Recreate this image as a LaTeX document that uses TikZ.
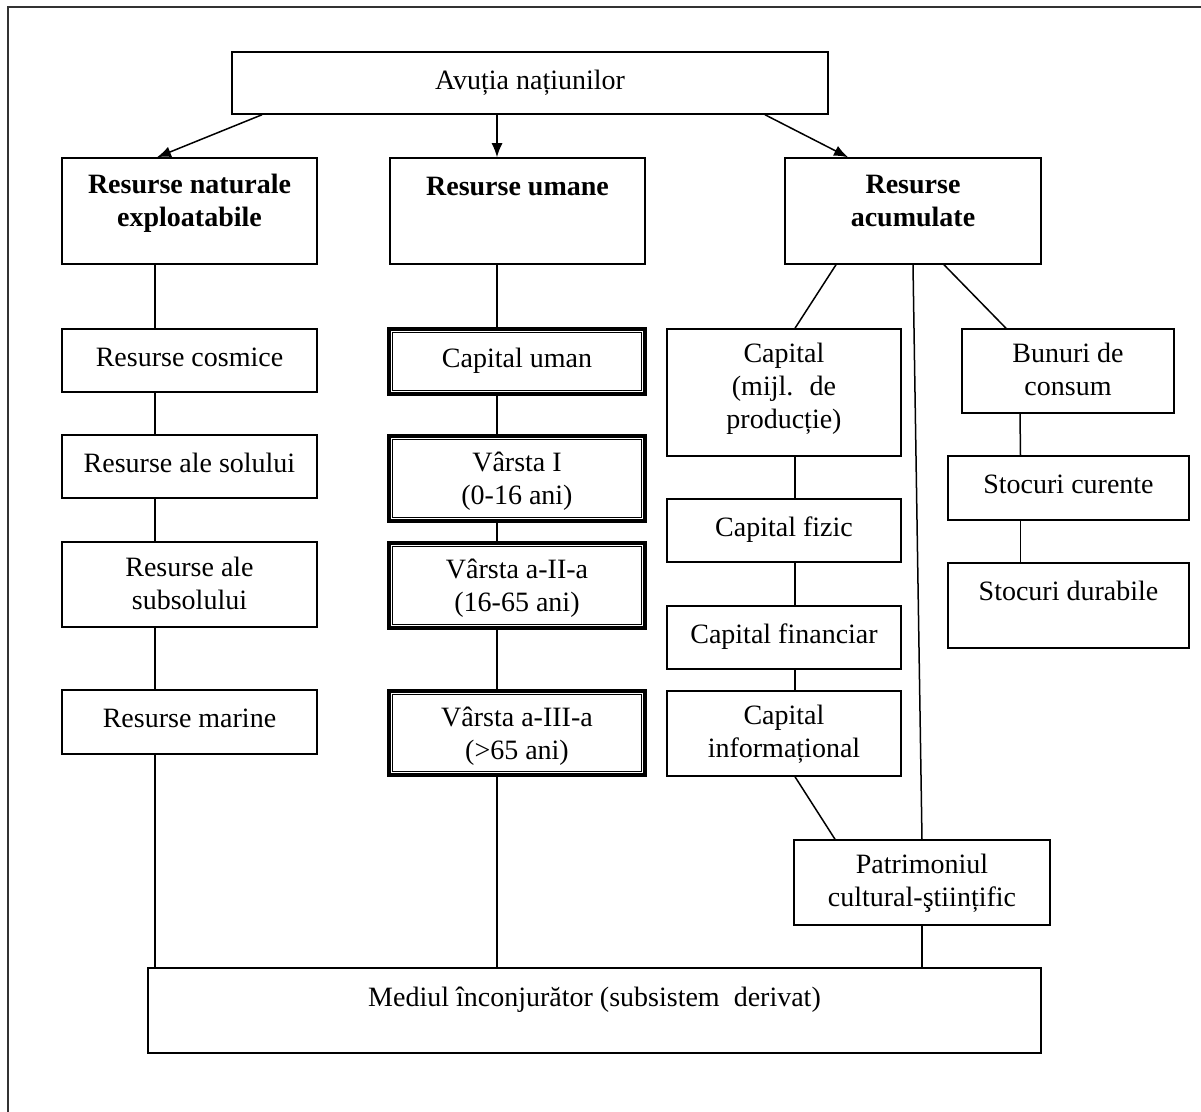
\documentclass[tikz,border=0pt]{standalone}
\usepackage{fontspec}
\setmainfont{Liberation Serif}
\usetikzlibrary{arrows.meta,fit}

\begin{document}
\begin{tikzpicture}[x=0.5pt, y=-0.5pt,
    box/.style={draw, line width=0.75pt, inner sep=0pt},
    dbox/.style={draw, line width=1.6pt, inner sep=0pt,
        path picture={\draw[line width=0.6pt]
            ([xshift=1.7pt,yshift=-1.7pt]path picture bounding box.north west) rectangle
            ([xshift=-1.7pt,yshift=1.7pt]path picture bounding box.south east);}},
    txt/.style={anchor=north, align=center, inner sep=0pt,
        font=\fontsize{14}{16.5}\selectfont, execute at begin node=\strut},
    hd/.style={txt, font=\fontsize{14}{16.5}\selectfont\bfseries},
    link/.style={line width=0.75pt},
    arr/.style={link, -{Latex[length=7pt,width=5.5pt]}}]

    \useasboundingbox (0,0) rectangle (1201,1112);
    \draw[line width=1pt, black!80] (8,1112) -- (8,7) -- (1201,7);

    % top
    \node[box, fit={(232,52) (828,114)}] (av) {};
    \node[txt] (avt) at ([yshift=-7.5pt]av.north) {Avuția națiunilor};

    % resurse
    \node[box, fit={(62,158) (317,264)}] (rn) {};
    \node[hd] (rnt) at ([yshift=-8pt]rn.north) {Resurse naturale\\exploatabile};
    \node[box, fit={(390,158) (645,264)}] (ru) {};
    \node[hd] (rut) at ([yshift=-7.5pt]ru.north) {Resurse umane};
    \node[box, fit={(785,158) (1041,264)}] (ra) {};
    \node[hd] (rat) at ([yshift=-9pt]ra.north) {Resurse\\acumulate};

    % resurse naturale
    \node[box, fit={(62,329) (317,392)}] (rc) {};
    \node[txt] (rct) at ([yshift=-7.5pt]rc.north) {Resurse cosmice};
    \node[box, fit={(62,435) (317,498)}] (rs) {};
    \node[txt] (rst) at ([yshift=-7.5pt]rs.north) {Resurse ale solului};
    \node[box, fit={(62,542) (317,627)}] (rsub) {};
    \node[txt] (rsubt) at ([yshift=-7.5pt]rsub.north) {Resurse ale\\subsolului};
    \node[box, fit={(62,690) (317,754)}] (rm) {};
    \node[txt] (rmt) at ([yshift=-7.5pt]rm.north) {Resurse marine};

    % resurse umane
    \node[dbox, fit={(389,329) (645,394)}] (cu) {};
    \node[txt] (cut) at ([yshift=-8.5pt]cu.north) {Capital uman};
    \node[dbox, fit={(389,436) (645,521)}] (v1) {};
    \node[txt] (v1t) at ([yshift=-8.5pt]v1.north) {Vârsta I\\(0-16 ani)};
    \node[dbox, fit={(389,543) (645,628)}] (v2) {};
    \node[txt] (v2t) at ([yshift=-8.5pt]v2.north) {Vârsta a-II-a\\(16-65 ani)};
    \node[dbox, fit={(389,691) (645,775)}] (v3) {};
    \node[txt] (v3t) at ([yshift=-8.5pt]v3.north) {Vârsta a-III-a\\(>65 ani)};

    % resurse acumulate
    \node[box, fit={(667,329) (901,456)}] (cp) {};
    \node[txt] (cpt) at ([yshift=-7pt]cp.north) {Capital\\(mijl.~ de\\producție)};
    \node[box, fit={(667,499) (901,562)}] (cf) {};
    \node[txt] (cft) at ([yshift=-7.5pt]cf.north) {Capital fizic};
    \node[box, fit={(667,606) (901,669)}] (cfin) {};
    \node[txt] (cfint) at ([yshift=-7.5pt]cfin.north) {Capital financiar};
    \node[box, fit={(667,691) (901,776)}] (ci) {};
    \node[txt] (cit) at ([yshift=-7pt]ci.north) {Capital\\informațional};
    \node[box, fit={(962,329) (1174,413)}] (bc) {};
    \node[txt] (bct) at ([yshift=-7pt]bc.north) {Bunuri de\\consum};
    \node[box, fit={(948,456) (1189,520)}] (sc) {};
    \node[txt] (sct) at ([yshift=-7.5pt]sc.north) {Stocuri curente};
    \node[box, fit={(948,563) (1189,648)}] (sd) {};
    \node[txt] (sdt) at ([yshift=-7.5pt]sd.north) {Stocuri durabile};
    \node[box, fit={(794,840) (1050,925)}] (pa) {};
    \node[txt] (pat) at ([yshift=-7pt]pa.north) {Patrimoniul\\cultural-ştiințific};

    % mediul
    \node[box, fit={(148,968) (1041,1053)}] (me) {};
    \node[txt] (met) at ([yshift=-8pt]me.north) {Mediul înconjurător (subsistem~ derivat)};

    % arrows
    \draw[arr] ([xshift=-134pt]av.south) -- ([xshift=-16.25pt]rn.north);
    \draw[arr] ([xshift=-16.5pt]av.south) -- ([xshift=-10.25pt]ru.north);
    \draw[arr] ([xshift=117.5pt]av.south) -- ([xshift=-32.5pt]ra.north);

    % left column
    \draw[link] ([xshift=-17.25pt]rn.south) -- ([xshift=-17.25pt]rc.north);
    \draw[link] ([xshift=-17.25pt]rc.south) -- ([xshift=-17.25pt]rs.north);
    \draw[link] ([xshift=-17.25pt]rs.south) -- ([xshift=-17.25pt]rsub.north);
    \draw[link] ([xshift=-17.25pt]rsub.south) -- ([xshift=-17.25pt]rm.north);
    \draw[link] ([xshift=-17.25pt]rm.south) -- ([xshift=-17.25pt]rm.south |- me.north);

    % middle column
    \draw[link] ([xshift=-10.25pt]ru.south) -- ([xshift=-10pt]cu.north);
    \draw[link] ([xshift=-10pt]cu.south) -- ([xshift=-10pt]v1.north);
    \draw[link] ([xshift=-10pt]v1.south) -- ([xshift=-10pt]v2.north);
    \draw[link] ([xshift=-10pt]v2.south) -- ([xshift=-10pt]v3.north);
    \draw[link] ([xshift=-10pt]v3.south) -- ([xshift=-10pt]v3.south |- me.north);

    % right part
    \draw[link] ([xshift=-38.5pt]ra.south) -- ([xshift=5.5pt]cp.north);
    \draw[link] (ra.south) -- (pa.north);
    \draw[link] ([xshift=15.5pt]ra.south) -- ([xshift=-31pt]bc.north);
    \draw[link] ([xshift=5.5pt]cp.south) -- ([xshift=5.5pt]cf.north);
    \draw[link] ([xshift=5.5pt]cf.south) -- ([xshift=5.5pt]cfin.north);
    \draw[link] ([xshift=5.5pt]cfin.south) -- ([xshift=5.5pt]ci.north);
    \draw[link] ([xshift=5.5pt]ci.south) -- ([xshift=-43.5pt]pa.north);
    \draw[link] ([xshift=-24pt]bc.south) -- ([xshift=-24pt]sc.north);
    \draw[link] ([xshift=-24pt]sc.south) -- ([xshift=-24pt]sd.north);
    \draw[link] (pa.south) -- (pa.south |- me.north);

\end{tikzpicture}
\end{document}
